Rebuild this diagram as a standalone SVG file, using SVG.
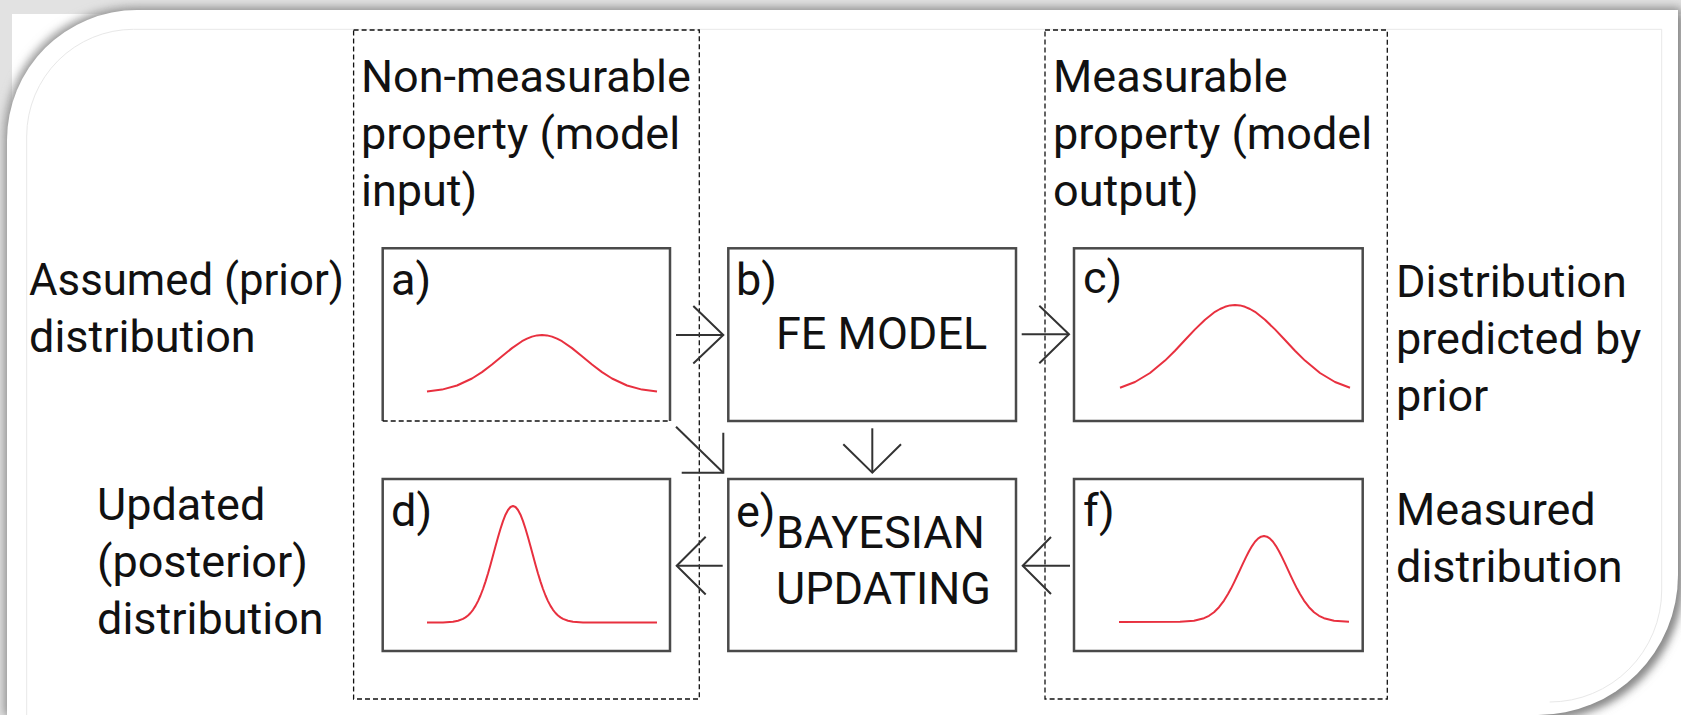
<svg xmlns="http://www.w3.org/2000/svg" width="1681" height="715" viewBox="0 0 1681 715">
<defs>
<filter id="sh" x="-5%" y="-5%" width="110%" height="110%"><feGaussianBlur stdDeviation="5"/></filter>
<style>
.t{font-family:Roboto,"Liberation Sans",sans-serif;font-size:45px;fill:#111}
.box{fill:#fff;stroke:#4a4a4a;stroke-width:2.5}
.col{fill:none;stroke:#111;stroke-width:1.3;stroke-dasharray:5 3}
.crv{fill:none;stroke:#e8303f;stroke-width:2;stroke-linejoin:round}
.con{fill:none;stroke:#333;stroke-width:2}
</style>
</defs>
<rect width="1681" height="715" fill="#fff"/>
<rect x="0" y="0" width="1681" height="14" fill="#e2e2e2"/>
<rect x="0" y="0" width="12" height="715" fill="#e2e2e2"/>
<path d="M4,138 A130,130 0 0 1 134,7 H1681 V575 A140,140 0 0 1 1541,715 H4 Z" fill="#9a9a9a" filter="url(#sh)"/>
<path d="M11,144 A130,130 0 0 1 141,14 H1682 V580 A140,140 0 0 1 1542,720 H11 Z" fill="#8a8a8a" filter="url(#sh)"/>
<path d="M7,140 A130,130 0 0 1 137,10 H1678 V575 A140,140 0 0 1 1538,715 H7 Z" fill="#fff"/>
<path d="M26.7,715 V136 A107,107 0 0 1 133.7,29.3 H1661.7 V590 A112,112 0 0 1 1549.7,702" fill="none" stroke="#e8e8e8" stroke-width="1"/>

<g id="col-input">
<rect class="col" x="353.6" y="30" width="345.7" height="669"/>
<text class="t" x="361" y="92">Non-measurable</text>
<text class="t" x="361" y="149">property (model</text>
<text class="t" x="361" y="206">input)</text>
</g>
<g id="col-output">
<rect class="col" x="1045" y="30" width="342.3" height="669"/>
<text class="t" x="1053" y="92">Measurable</text>
<text class="t" x="1053" y="149">property (model</text>
<text class="t" x="1053" y="206">output)</text>
</g>

<g id="label-prior">
<text class="t" x="29" y="295" textLength="315" lengthAdjust="spacingAndGlyphs">Assumed (prior)</text>
<text class="t" x="29" y="352">distribution</text>
</g>
<g id="label-posterior">
<text class="t" x="97" y="520">Updated</text>
<text class="t" x="97" y="577">(posterior)</text>
<text class="t" x="97" y="634">distribution</text>
</g>
<g id="label-predicted">
<text class="t" x="1396" y="297">Distribution</text>
<text class="t" x="1396" y="354">predicted by</text>
<text class="t" x="1396" y="411">prior</text>
</g>
<g id="label-measured">
<text class="t" x="1396" y="525">Measured</text>
<text class="t" x="1396" y="582">distribution</text>
</g>

<g id="node-a">
<path d="M382.7,421 V248.3 H670 V421" class="box"/>
<line x1="382.7" y1="421" x2="670" y2="421" stroke="#111" stroke-width="1.5" stroke-dasharray="5 3"/>
<text class="t" x="391" y="295">a)</text>
<polyline class="crv" points="427,391.6 442,389.6 457,385.5 472,378.5 482,372.1 492,364.5 502,356.2 512,348.1 522,341.2 527,338.7 532,336.6 537,335.4 542,335 547,335.4 552,336.6 557,338.7 562,341.2 572,348.1 582,356.2 592,364.5 602,372.1 612,378.5 627,385.5 642,389.6 657,391.6"/>
</g>
<g id="node-b">
<rect class="box" x="728.3" y="248.3" width="287.7" height="172.7"/>
<text class="t" x="736" y="295">b)</text>
<text class="t" x="776" y="349">FE MODEL</text>
</g>
<g id="node-c">
<rect class="box" x="1074" y="248.3" width="288.7" height="172.7"/>
<text class="t" x="1083" y="293">c)</text>
<polyline class="crv" points="1120,387.7 1135,382 1150,373 1165,360.6 1175,350.7 1185,340 1195,329.4 1205,319.7 1215,311.8 1220,309 1225,306.8 1230,305.4 1235,305 1240,305.4 1245,306.8 1250,309 1255,311.8 1265,319.7 1275,329.4 1285,340 1295,350.7 1305,360.6 1320,373 1335,382 1350,387.7"/>
</g>
<g id="node-d">
<rect class="box" x="382.7" y="479" width="287.3" height="172"/>
<text class="t" x="391" y="526">d)</text>
<polyline class="crv" points="427,622.5 443,622.4 453,621.7 458,620.7 463,618.9 465.5,617.4 468,615.5 470.5,613 473,609.8 475.5,605.9 478,601.1 480.5,595.5 483,589 485.5,581.6 488,573.5 490.5,564.7 493,555.5 495.5,546.3 498,537.2 500.5,528.7 503,521.1 505.5,514.7 508,510 510.5,507 513,506 515.5,507 518,510 520.5,514.7 523,521.1 525.5,528.7 528,537.2 530.5,546.3 533,555.5 535.5,564.7 538,573.5 540.5,581.6 543,589 545.5,595.5 548,601.1 550.5,605.9 553,609.8 555.5,613 558,615.5 560.5,617.4 563,618.9 568,620.7 573,621.7 583,622.4 657,622.5"/>
</g>
<g id="node-e">
<rect class="box" x="728.3" y="479" width="287.7" height="172"/>
<text class="t" x="736" y="527">e)</text>
<text class="t" x="776" y="548">BAYESIAN</text>
<text class="t" x="776" y="604">UPDATING</text>
</g>
<g id="node-f">
<rect class="box" x="1074" y="479" width="288.7" height="172"/>
<text class="t" x="1083" y="526">f)</text>
<polyline class="crv" points="1119,622 1180,621.8 1194,620.8 1204,618.2 1209,615.8 1214,612.2 1219,607.2 1224,600.6 1228,594.1 1231,588.6 1234,582.6 1237,576.3 1240,569.8 1243,563.4 1246,557.1 1249,551.3 1252,546.1 1255,541.8 1258,538.6 1261,536.7 1264,536 1267,536.7 1270,538.6 1273,541.8 1276,546.1 1279,551.3 1282,557.1 1285,563.4 1288,569.8 1291,576.3 1294,582.6 1297,588.6 1300,594.1 1304,600.6 1309,607.2 1314,612.2 1319,615.8 1324,618.2 1334,620.8 1349,621.8"/>
</g>

<g id="connectors">
<line class="con" x1="676" y1="335" x2="723.3" y2="335"/>
<polyline class="con" points="693.3,306 723.3,335 693.3,363.5"/>
<line class="con" x1="1021.7" y1="334.3" x2="1069" y2="334.3"/>
<polyline class="con" points="1039.3,305.7 1069,334.3 1039.3,363.3"/>
<line class="con" x1="872.3" y1="428.3" x2="872.3" y2="472.7"/>
<polyline class="con" points="843.3,444.3 872.3,472.7 901,444.3"/>
<line class="con" x1="676" y1="426.7" x2="723.3" y2="472.7"/>
<polyline class="con" points="723.3,432.7 723.3,472.7 681.7,472.7"/>
<line class="con" x1="722.7" y1="565.7" x2="676.7" y2="565.7"/>
<polyline class="con" points="705.7,536.7 676.7,565.7 705.7,594.5"/>
<line class="con" x1="1070" y1="565.7" x2="1022.7" y2="565.7"/>
<polyline class="con" points="1051,537 1022.7,565.7 1051,594"/>
</g>
</svg>
